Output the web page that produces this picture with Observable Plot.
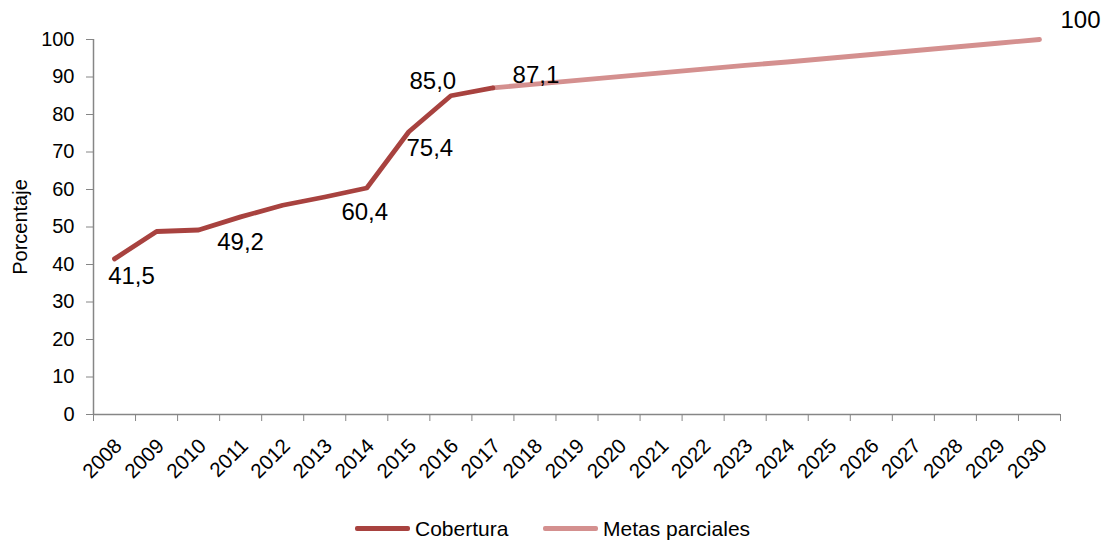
<!DOCTYPE html>
<html>
<head>
<meta charset="utf-8">
<script src="https://cdn.jsdelivr.net/npm/d3@7"></script>
<script src="https://cdn.jsdelivr.net/npm/@observablehq/plot@0.6"></script>
<style>
  html, body { margin: 0; padding: 0; background: #fff; }
  body { font-family: "Liberation Sans", Arial, sans-serif; width: 1106px; height: 542px; overflow: hidden; }
  #legend { position: relative; height: 37px; font-size: 21px; color: #000; }
  .item { position: absolute; top: 5px; height: 37px; display: flex; align-items: center; }
  .sw { display: inline-block; width: 55px; height: 5px; border-radius: 2px; margin-right: 5px; }
</style>
</head>
<body>
<div id="chart"></div>
<div id="legend"></div>
<script>
// ---- data ----
const years = [2008, 2009, 2010, 2011, 2012, 2013, 2014, 2015, 2016, 2017, 2018, 2019,
  2020, 2021, 2022, 2023, 2024, 2025, 2026, 2027, 2028, 2029, 2030];
const coberturaYears = [2008, 2009, 2010, 2011, 2012, 2013, 2014, 2015, 2016, 2017];
const coberturaValues = [41.5, 48.8, 49.2, 52.7, 55.8, 58.0, 60.4, 75.4, 85.0, 87.1];
const metasYears = [2017, 2018, 2019, 2020, 2021, 2022, 2023, 2024, 2025, 2026, 2027, 2028, 2029, 2030];
const metasValues = [87.1, 88.1, 89.1, 90.1, 91.1, 92.1, 93.1, 94.0, 95.0, 96.0, 97.0, 98.0, 99.0, 100];
const labelYears = [2008, 2010, 2014, 2015, 2016, 2017, 2030];
const labelValues = [41.5, 49.2, 60.4, 75.4, 85.0, 87.1, 100];
const labelTexts = ["41,5", "49,2", "60,4", "75,4", "85,0", "87,1", "100"];
const yTicks = [0, 10, 20, 30, 40, 50, 60, 70, 80, 90, 100];
const seriesNames = ["Cobertura", "Metas parciales"];

// ---- styles ----
const colors = ["#A8423F", "#D4908F"];
const axisGray = "#868686";
const labelOffsets = {
  2008: [17, 17], 2010: [42, 12], 2014: [-2, 24], 2015: [21, 17],
  2016: [-18, -14], 2017: [43, -13], 2030: [41, -19]
};

const cobertura = coberturaYears.map((y, i) => ({year: y, value: coberturaValues[i]}));
const metas = metasYears.map((y, i) => ({year: y, value: metasValues[i]}));
const labels = labelYears.map((y, i) => ({year: y, value: labelValues[i], text: labelTexts[i]}));
const xDomain = [years[0] - 0.5, years[years.length - 1] + 0.5];
const boundaries = years.map(y => y - 0.5).concat([years[years.length - 1] + 0.5]);

const labelMarks = labels.map(d => Plot.text([d], {
  x: "year", y: "value", text: "text",
  dx: labelOffsets[d.year][0], dy: labelOffsets[d.year][1],
  fontSize: 24, fill: "#000", textAnchor: "middle", lineAnchor: "middle"
}));

const chart = Plot.plot({
  width: 1106,
  height: 505,
  marginLeft: 93,
  marginRight: 46,
  marginTop: 39,
  marginBottom: 91,
  style: {fontFamily: "'Liberation Sans', Arial, sans-serif", fontSize: "20px", background: "#fff", color: "#000"},
  x: {type: "linear", domain: xDomain},
  y: {domain: [0, 100]},
  marks: [
    Plot.ruleY([0], {stroke: axisGray, strokeWidth: 1.5}),
    Plot.ruleX([xDomain[0]], {y1: 0, y2: 100, stroke: axisGray, strokeWidth: 1.5}),
    Plot.axisY({ticks: yTicks, tickSize: 7, tickPadding: 12, stroke: axisGray, fill: "#000", fontSize: 20, label: null, tickFormat: d => String(d)}),
    Plot.axisX({ticks: boundaries, tickSize: 7, stroke: axisGray, tickFormat: () => "", label: null}),
    Plot.axisX({ticks: years, tickSize: 0, tickPadding: 23, dx: 4, dy: 5, tickRotate: -45, fill: "#000", fontSize: 20.5, label: null, tickFormat: d => String(d)}),
    Plot.text(["Porcentaje"], {frameAnchor: "left", rotate: -90, dx: -73, fontSize: 20, fill: "#000", textAnchor: "middle", lineAnchor: "middle"}),
    Plot.line(metas, {x: "year", y: "value", stroke: colors[1], strokeWidth: 4.8, strokeLinejoin: "round"}),
    Plot.line(cobertura, {x: "year", y: "value", stroke: colors[0], strokeWidth: 4.8, strokeLinejoin: "round"}),
    ...labelMarks
  ]
});
document.getElementById("chart").appendChild(chart);

const legend = document.getElementById("legend");
const lefts = [355, 543];
seriesNames.forEach((name, i) => {
  const item = document.createElement("div");
  item.className = "item";
  item.style.left = lefts[i] + "px";
  item.innerHTML = `<span class="sw" style="background:${colors[i]}"></span><span>${name}</span>`;
  legend.appendChild(item);
});
</script>
</body>
</html>
